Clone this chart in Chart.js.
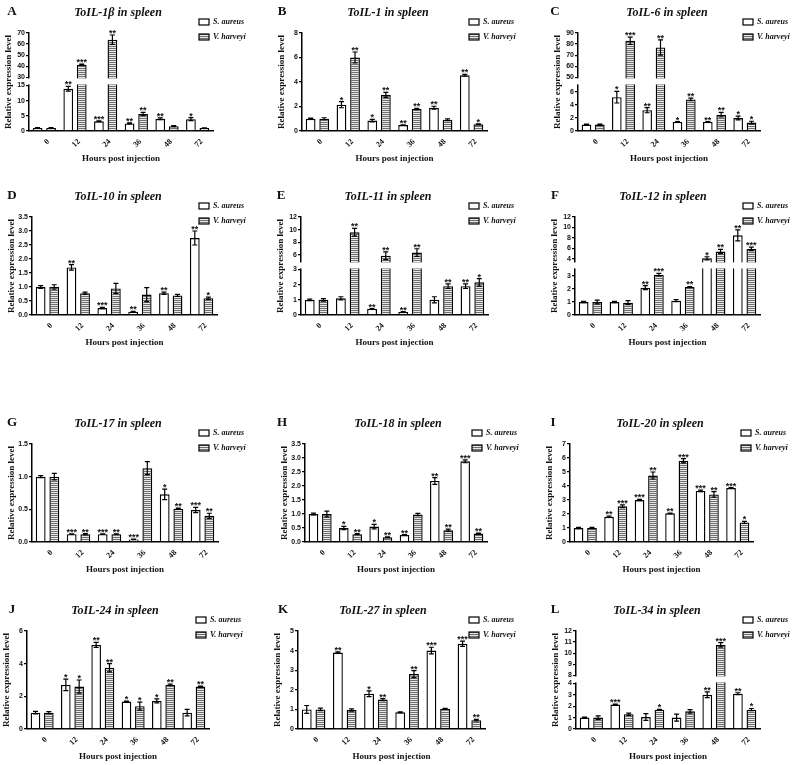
<!DOCTYPE html>
<html>
<head>
<meta charset="utf-8">
<script src="https://cdn.jsdelivr.net/npm/chart.js@4.4.0/dist/chart.umd.min.js"></script>
<style>
  body { margin: 0; background: #fff; }
  #fig { position: relative; width: 796px; height: 765px; }
  #fig canvas { position: absolute; }
</style>
</head>
<body>
<div id="fig"></div>
<script>
const hours = ['0', '12', '24', '36', '48', '72'];

// A - ToIL-1β
const il1bTicks = [0, 5, 10, 15, 30, 40, 50, 60, 70];
const il1bAureus = [1.0, 13.9, 3.2, 2.5, 4.0, 3.9];
const il1bAureusErr = [0.1, 0.8, 0.15, 0.15, 0.3, 0.5];
const il1bAureusSig = ['', '**', '***', '**', '**', '*'];
const il1bHarveyi = [1.0, 41.5, 64, 5.6, 1.6, 1.0];
const il1bHarveyiErr = [0.1, 0.5, 4.2, 0.5, 0.2, 0.05];
const il1bHarveyiSig = ['', '***', '**', '**', '', ''];

// B - ToIL-1
const il1Ticks = [0, 2, 4, 6, 8];
const il1Aureus = [1.0, 2.15, 0.85, 0.48, 1.9, 4.55];
const il1AureusErr = [0.05, 0.25, 0.1, 0.03, 0.12, 0.08];
const il1AureusSig = ['', '*', '*', '**', '**', '**'];
const il1Harveyi = [1.0, 6.0, 2.95, 1.8, 0.92, 0.55];
const il1HarveyiErr = [0.08, 0.45, 0.2, 0.05, 0.07, 0.03];
const il1HarveyiSig = ['', '**', '**', '**', '', '*'];

// C - ToIL-6
const il6Ticks = [0, 2, 4, 6, 50, 60, 70, 80, 90];
const il6Aureus = [1.0, 5.2, 3.2, 1.4, 1.4, 2.0];
const il6AureusErr = [0.05, 0.9, 0.4, 0.05, 0.05, 0.3];
const il6AureusSig = ['', '*', '**', '*', '**', '*'];
const il6Harveyi = [1.0, 83, 77, 4.85, 2.5, 1.3];
const il6HarveyiErr = [0.05, 3.2, 6.9, 0.2, 0.35, 0.2];
const il6HarveyiSig = ['', '***', '**', '**', '**', '*'];

// D - ToIL-10
const il10Ticks = [0, 0.5, 1, 1.5, 2, 2.5, 3, 3.5];
const il10Aureus = [1.0, 1.7, 0.25, 0.12, 0.78, 2.75];
const il10AureusErr = [0.05, 0.1, 0.02, 0.01, 0.04, 0.25];
const il10AureusSig = ['', '**', '***', '**', '**', '**'];
const il10Harveyi = [1.0, 0.78, 0.95, 0.73, 0.7, 0.6];
const il10HarveyiErr = [0.08, 0.04, 0.18, 0.25, 0.04, 0.04];
const il10HarveyiSig = ['', '', '', '', '', '*'];

// E - ToIL-11
const il11Ticks = [0, 1, 2, 3, 6, 8, 10, 12];
const il11Aureus = [1.0, 1.1, 0.4, 0.2, 1.0, 1.9];
const il11AureusErr = [0.05, 0.1, 0.02, 0.02, 0.2, 0.15];
const il11AureusSig = ['', '', '**', '**', '', '**'];
const il11Harveyi = [1.0, 9.6, 5.9, 6.4, 1.9, 2.15];
const il11HarveyiErr = [0.08, 0.6, 0.6, 0.6, 0.15, 0.25];
const il11HarveyiSig = ['', '**', '**', '**', '**', '*'];

// F - ToIL-12
const il12Ticks = [0, 1, 2, 3, 4, 6, 8, 10, 12];
const il12Aureus = [1.0, 1.0, 2.1, 1.1, 4.1, 8.5];
const il12AureusErr = [0.05, 0.05, 0.15, 0.08, 0.3, 1.05];
const il12AureusSig = ['', '', '**', '', '*', '**'];
const il12Harveyi = [1.0, 0.95, 3.1, 2.15, 5.4, 5.9];
const il12HarveyiErr = [0.15, 0.15, 0.1, 0.04, 0.4, 0.35];
const il12HarveyiSig = ['', '', '***', '**', '**', '***'];

// G - ToIL-17
const il17Ticks = [0, 0.5, 1, 1.5];
const il17Aureus = [1.0, 0.12, 0.12, 0.04, 0.73, 0.49];
const il17AureusErr = [0.015, 0.005, 0.005, 0.005, 0.08, 0.04];
const il17AureusSig = ['', '***', '***', '***', '*', '***'];
const il17Harveyi = [1.0, 0.12, 0.12, 1.13, 0.51, 0.40];
const il17HarveyiErr = [0.05, 0.01, 0.005, 0.1, 0.01, 0.04];
const il17HarveyiSig = ['', '**', '**', '', '**', '**'];

// H - ToIL-18
const il18Ticks = [0, 0.5, 1, 1.5, 2, 2.5, 3, 3.5];
const il18Aureus = [1.0, 0.5, 0.55, 0.25, 2.18, 2.88];
const il18AureusErr = [0.03, 0.06, 0.08, 0.01, 0.12, 0.05];
const il18AureusSig = ['', '*', '*', '**', '**', '***'];
const il18Harveyi = [1.0, 0.28, 0.17, 0.98, 0.42, 0.3];
const il18HarveyiErr = [0.1, 0.02, 0.01, 0.04, 0.04, 0.02];
const il18HarveyiSig = ['', '**', '**', '', '**', '**'];

// I - ToIL-20
const il20Ticks = [0, 1, 2, 3, 4, 5, 6, 7];
const il20Aureus = [1.0, 1.8, 3.0, 2.05, 3.65, 3.85];
const il20AureusErr = [0.05, 0.05, 0.05, 0.02, 0.05, 0.03];
const il20AureusSig = ['', '**', '***', '**', '***', '***'];
const il20Harveyi = [1.0, 2.55, 4.75, 5.8, 3.4, 1.4];
const il20HarveyiErr = [0.05, 0.1, 0.25, 0.15, 0.2, 0.08];
const il20HarveyiSig = ['', '***', '**', '***', '**', '*'];

// J - ToIL-24
const il24Ticks = [0, 2, 4, 6];
const il24Aureus = [1.0, 2.7, 5.15, 1.68, 1.72, 1.0];
const il24AureusErr = [0.08, 0.35, 0.15, 0.03, 0.12, 0.2];
const il24AureusSig = ['', '*', '**', '*', '*', ''];
const il24Harveyi = [1.0, 2.6, 3.75, 1.4, 2.7, 2.6];
const il24HarveyiErr = [0.06, 0.4, 0.25, 0.25, 0.05, 0.03];
const il24HarveyiSig = ['', '*', '**', '*', '**', '**'];

// K - ToIL-27
const il27Ticks = [0, 1, 2, 3, 4, 5];
const il27Aureus = [1.0, 3.9, 1.8, 0.85, 4.0, 4.35];
const il27AureusErr = [0.2, 0.04, 0.15, 0.02, 0.17, 0.13];
const il27AureusSig = ['', '**', '*', '', '***', '***'];
const il27Harveyi = [1.0, 0.97, 1.5, 2.8, 1.03, 0.45];
const il27HarveyiErr = [0.06, 0.06, 0.05, 0.18, 0.02, 0.04];
const il27HarveyiSig = ['', '', '**', '**', '', '**'];

// L - ToIL-34
const il34Ticks = [0, 1, 2, 3, 4, 8, 9, 10, 11, 12];
const il34Aureus = [1.0, 2.15, 1.05, 1.0, 3.0, 3.1];
const il34AureusErr = [0.05, 0.03, 0.3, 0.3, 0.25, 0.08];
const il34AureusSig = ['', '***', '', '', '**', '**'];
const il34Harveyi = [1.0, 1.3, 1.7, 1.55, 10.75, 1.7];
const il34HarveyiErr = [0.15, 0.1, 0.03, 0.15, 0.2, 0.1];
const il34HarveyiSig = ['', '', '*', '', '***', '*'];

const SERIF = '"Liberation Serif", "Times New Roman", serif';
const SANS = '"Liberation Sans", Arial, sans-serif';

// y scale with a gap between a lower and an upper segment
class BrokenScale extends Chart.LinearScale {
  static id = 'broken';
  static defaults = {};
  segs() {
    const b = this.options.brk;
    const h = this.bottom - this.top;
    const lowH = h * 0.465;
    const gapH = 8;
    return { b, lowH, gapH, upH: h - lowH - gapH };
  }
  gapBand() {
    const { lowH, gapH } = this.segs();
    return { top: this.bottom - lowH - gapH, bottom: this.bottom - lowH };
  }
  getPixelForValue(v) {
    const { b, lowH, gapH, upH } = this.segs();
    if (v <= b.lo) return this.bottom - (v - this.min) / (b.lo - this.min) * lowH;
    if (v >= b.hi) return this.bottom - lowH - gapH - (v - b.hi) / (this.max - b.hi) * upH;
    return this.bottom - lowH - (v - b.lo) / (b.hi - b.lo) * gapH;
  }
  getValueForPixel(p) {
    const { b, lowH, gapH, upH } = this.segs();
    const d = this.bottom - p;
    if (d <= lowH) return this.min + d / lowH * (b.lo - this.min);
    if (d >= lowH + gapH) return b.hi + (d - lowH - gapH) / upH * (this.max - b.hi);
    return b.lo + (d - lowH) / gapH * (b.hi - b.lo);
  }
}
Chart.register(BrokenScale);

// horizontal stripes for V. harveyi
const pc = document.createElement('canvas');
pc.width = 4; pc.height = 2;
const pctx = pc.getContext('2d');
pctx.fillStyle = '#e8e8e8'; pctx.fillRect(0, 0, 4, 2);
pctx.fillStyle = '#6f6f6f'; pctx.fillRect(0, 0, 4, 1);
const stripes = pctx.createPattern(pc, 'repeat');

const panels = [
  { letter: 'A', title: 'ToIL-1β in spleen', col: 0, row: 0, axisX: 29, right: 213, legendX: 199, letterX: 12, titleX: 118,
    max: 70, ticks: il1bTicks, brk: { lo: 15, hi: 30 },
    sa: il1bAureus, saErr: il1bAureusErr, saSig: il1bAureusSig, vh: il1bHarveyi, vhErr: il1bHarveyiErr, vhSig: il1bHarveyiSig },
  { letter: 'B', title: 'ToIL-1 in spleen', col: 1, row: 0, axisX: 37, right: 222, legendX: 204, letterX: 17, titleX: 123,
    max: 8, ticks: il1Ticks,
    sa: il1Aureus, saErr: il1AureusErr, saSig: il1AureusSig, vh: il1Harveyi, vhErr: il1HarveyiErr, vhSig: il1HarveyiSig },
  { letter: 'C', title: 'ToIL-6 in spleen', col: 2, row: 0, axisX: 48, right: 230, legendX: 213, letterX: 25, titleX: 137,
    max: 90, ticks: il6Ticks, brk: { lo: 7, hi: 50 },
    sa: il6Aureus, saErr: il6AureusErr, saSig: il6AureusSig, vh: il6Harveyi, vhErr: il6HarveyiErr, vhSig: il6HarveyiSig },
  { letter: 'D', title: 'ToIL-10 in spleen', col: 0, row: 1, axisX: 32, right: 217, legendX: 199, letterX: 12, titleX: 118,
    max: 3.5, ticks: il10Ticks, dec: 1,
    sa: il10Aureus, saErr: il10AureusErr, saSig: il10AureusSig, vh: il10Harveyi, vhErr: il10HarveyiErr, vhSig: il10HarveyiSig },
  { letter: 'E', title: 'ToIL-11 in spleen', col: 1, row: 1, axisX: 36, right: 223, legendX: 204, letterX: 16, titleX: 123,
    max: 12, ticks: il11Ticks, brk: { lo: 3, hi: 5 },
    sa: il11Aureus, saErr: il11AureusErr, saSig: il11AureusSig, vh: il11Harveyi, vhErr: il11HarveyiErr, vhSig: il11HarveyiSig },
  { letter: 'F', title: 'ToIL-12 in spleen', col: 2, row: 1, axisX: 45, right: 230, legendX: 213, letterX: 25, titleX: 133,
    max: 12, ticks: il12Ticks, brk: { lo: 3.5, hi: 3.5 },
    sa: il12Aureus, saErr: il12AureusErr, saSig: il12AureusSig, vh: il12Harveyi, vhErr: il12HarveyiErr, vhSig: il12HarveyiSig },
  { letter: 'G', title: 'ToIL-17 in spleen', col: 0, row: 2, axisX: 32, right: 218, legendX: 199, letterX: 12, titleX: 118,
    max: 1.5, ticks: il17Ticks, dec: 1,
    sa: il17Aureus, saErr: il17AureusErr, saSig: il17AureusSig, vh: il17Harveyi, vhErr: il17HarveyiErr, vhSig: il17HarveyiSig },
  { letter: 'H', title: 'ToIL-18 in spleen', col: 1, row: 2, axisX: 40, right: 222, legendX: 207, letterX: 17, titleX: 133,
    max: 3.5, ticks: il18Ticks, dec: 1,
    sa: il18Aureus, saErr: il18AureusErr, saSig: il18AureusSig, vh: il18Harveyi, vhErr: il18HarveyiErr, vhSig: il18HarveyiSig },
  { letter: 'I', title: 'ToIL-20 in spleen', col: 2, row: 2, axisX: 40, right: 223, legendX: 211, letterX: 23, titleX: 130,
    max: 7, ticks: il20Ticks,
    sa: il20Aureus, saErr: il20AureusErr, saSig: il20AureusSig, vh: il20Harveyi, vhErr: il20HarveyiErr, vhSig: il20HarveyiSig },
  { letter: 'J', title: 'ToIL-24 in spleen', col: 0, row: 3, axisX: 27, right: 209, legendX: 196, letterX: 12, titleX: 115,
    max: 6, ticks: il24Ticks,
    sa: il24Aureus, saErr: il24AureusErr, saSig: il24AureusSig, vh: il24Harveyi, vhErr: il24HarveyiErr, vhSig: il24HarveyiSig },
  { letter: 'K', title: 'ToIL-27 in spleen', col: 1, row: 3, axisX: 33, right: 220, legendX: 204, letterX: 18, titleX: 118,
    max: 5, ticks: il27Ticks,
    sa: il27Aureus, saErr: il27AureusErr, saSig: il27AureusSig, vh: il27Harveyi, vhErr: il27HarveyiErr, vhSig: il27HarveyiSig },
  { letter: 'L', title: 'ToIL-34 in spleen', col: 2, row: 3, axisX: 46, right: 230, legendX: 213, letterX: 25, titleX: 127,
    max: 12, ticks: il34Ticks, brk: { lo: 4, hi: 8 },
    sa: il34Aureus, saErr: il34AureusErr, saSig: il34AureusSig, vh: il34Harveyi, vhErr: il34HarveyiErr, vhSig: il34HarveyiSig }
];

const colX = [0, 265, 530];
const colW = [265, 265, 266];
const rowY = [0, 184, 411, 598];
const H = 167;

// error bars, stars, break gap, letter, title and legend
const panelDecor = {
  id: 'panelDecor',
  afterDatasetsDraw(chart, args, o) {
    const ctx = chart.ctx, y = chart.scales.y, area = chart.chartArea;
    ctx.save();
    if (y.gapBand) {
      const g = y.gapBand();
      ctx.fillStyle = '#fff';
      ctx.fillRect(area.left - 4, g.top + 1, area.right - area.left + 6, g.bottom - g.top - 2);
    }
    ctx.strokeStyle = '#000';
    ctx.lineWidth = 1.2;
    ctx.fillStyle = '#111';
    ctx.font = 'bold 9px ' + SANS;
    ctx.textAlign = 'center';
    ctx.textBaseline = 'alphabetic';
    chart.data.datasets.forEach((ds, i) => {
      chart.getDatasetMeta(i).data.forEach((bar, j) => {
        const v = ds.data[j], e = ds.err[j];
        const yt = y.getPixelForValue(v + e), yb = y.getPixelForValue(v - e);
        const x = bar.x;
        ctx.beginPath();
        ctx.moveTo(x, yt); ctx.lineTo(x, yb);
        ctx.moveTo(x - 2.5, yt); ctx.lineTo(x + 2.5, yt);
        ctx.moveTo(x - 2.5, yb); ctx.lineTo(x + 2.5, yb);
        ctx.stroke();
        if (ds.sig[j]) ctx.fillText(ds.sig[j], x, yt + 1);
      });
    });
    ctx.restore();
  },
  afterDraw(chart, args, o) {
    const ctx = chart.ctx;
    ctx.save();
    ctx.fillStyle = '#111';
    ctx.textBaseline = 'middle';
    ctx.textAlign = 'center';
    ctx.font = 'bold 13px ' + SERIF;
    ctx.fillText(o.letter, o.letterX, 12);
    ctx.font = 'italic bold 12px ' + SERIF;
    ctx.fillText(o.title, o.titleX, 13);
    ctx.textAlign = 'left';
    ctx.font = 'italic bold 8px ' + SERIF;
    chart.data.datasets.forEach((ds, i) => {
      const cy = 22 + i * 15;
      ctx.fillStyle = ds.backgroundColor;
      ctx.fillRect(o.legendX, cy - 3, 10, 6);
      ctx.strokeStyle = '#000';
      ctx.lineWidth = 1.2;
      ctx.strokeRect(o.legendX, cy - 3, 10, 6);
      ctx.fillStyle = '#111';
      ctx.fillText(ds.label, o.legendX + 14, cy);
    });
    ctx.restore();
  }
};

const fig = document.getElementById('fig');

panels.forEach(p => {
  const W = colW[p.col];
  const cv = document.createElement('canvas');
  cv.width = W; cv.height = H;
  cv.style.left = colX[p.col] + 'px';
  cv.style.top = rowY[p.row] + 'px';
  fig.appendChild(cv);

  new Chart(cv, {
    type: 'bar',
    data: {
      labels: hours,
      datasets: [
        { label: 'S. aureus', data: p.sa, err: p.saErr, sig: p.saSig,
          backgroundColor: '#ffffff', borderColor: '#000', borderWidth: 1.4 },
        { label: 'V. harveyi', data: p.vh, err: p.vhErr, sig: p.vhSig,
          backgroundColor: stripes, borderColor: '#000', borderWidth: 1.4 }
      ]
    },
    options: {
      responsive: false,
      animation: false,
      devicePixelRatio: 1,
      categoryPercentage: 0.88,
      barPercentage: 0.72,
      layout: { padding: { left: p.axisX - 26, top: 33, right: W - p.right, bottom: 3 } },
      plugins: {
        legend: { display: false },
        tooltip: { enabled: false },
        panelDecor: { letter: p.letter, letterX: p.letterX, title: p.title, titleX: p.titleX, legendX: p.legendX }
      },
      scales: {
        x: {
          grid: { display: false, drawTicks: false },
          border: { color: '#000', width: 1.5 },
          ticks: { autoSkip: false, minRotation: 45, maxRotation: 45, padding: 6, labelOffset: 4,
                   color: '#111', font: { family: SERIF, size: 8, weight: 'bold' } },
          title: { display: true, text: 'Hours post injection', color: '#111', padding: 0,
                   font: { family: SERIF, size: 9, weight: 'bold' } },
          afterFit: s => { s.height = 33; }
        },
        y: {
          type: p.brk ? 'broken' : 'linear',
          brk: p.brk,
          min: 0,
          max: p.max,
          grid: { display: true, drawOnChartArea: false, drawTicks: true, tickLength: 3, color: '#000', lineWidth: 1.3 },
          border: { color: '#000', width: 1.5 },
          ticks: { autoSkip: false, padding: 1, color: '#111', font: { family: SANS, size: 7, weight: 'bold' },
                   callback: v => p.dec ? v.toFixed(p.dec) : String(v) },
          title: { display: true, text: 'Relative expression level', color: '#111', padding: 0,
                   font: { family: SERIF, size: 9, weight: 'bold' } },
          afterBuildTicks: s => { s.ticks = p.ticks.map(v => ({ value: v })); },
          afterFit: s => { s.width = 26; }
        }
      }
    },
    plugins: [panelDecor]
  });
});
</script>
</body>
</html>
